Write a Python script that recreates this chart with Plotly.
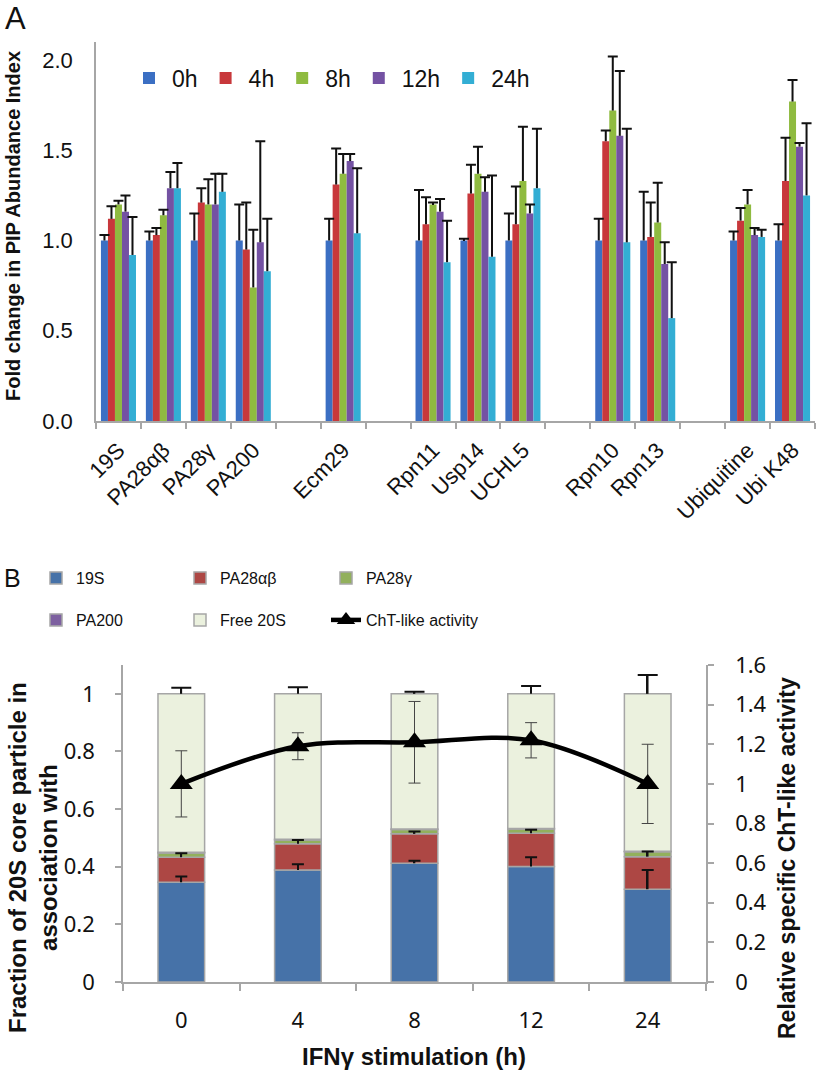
import numpy as np
import plotly.graph_objects as go

W, H = 816, 1072

# ---------------- Panel A data ----------------
proteins = ["19S", "PA28αβ", "PA28γ", "PA200", "Ecm29", "Rpn11", "Usp14", "UCHL5",
            "Rpn10", "Rpn13", "Ubiquitine", "Ubi K48"]
axis_categories = ["19S", "PA28αβ", "PA28γ", "PA200", " ", "Ecm29", "  ", "Rpn11", "Usp14",
                   "UCHL5", "   ", "Rpn10", "Rpn13", "    ", "Ubiquitine", "Ubi K48"]
time_labels = ["0h", "4h", "8h", "12h", "24h"]

fold_0h = [1.00, 1.00, 1.00, 1.00, 1.00, 1.00, 1.00, 1.00, 1.00, 1.00, 1.00, 1.00]
fold_4h = [1.12, 1.03, 1.21, 0.95, 1.31, 1.09, 1.26, 1.09, 1.55, 1.02, 1.11, 1.33]
fold_8h = [1.20, 1.14, 1.20, 0.74, 1.37, 1.20, 1.37, 1.33, 1.72, 1.10, 1.20, 1.77]
fold_12h = [1.16, 1.29, 1.20, 0.99, 1.44, 1.16, 1.27, 1.15, 1.58, 0.87, 1.03, 1.52]
fold_24h = [0.92, 1.29, 1.27, 0.83, 1.04, 0.88, 0.91, 1.29, 0.99, 0.57, 1.02, 1.25]

err_0h = [0.03, 0.05, 0.15, 0.20, 0.12, 0.28, 0.01, 0.15, 0.12, 0.27, 0.05, 0.09]
err_4h = [0.07, 0.04, 0.08, 0.26, 0.20, 0.15, 0.16, 0.21, 0.06, 0.19, 0.07, 0.24]
err_8h = [0.02, 0.03, 0.14, 0.32, 0.11, 0.01, 0.15, 0.30, 0.30, 0.22, 0.08, 0.12]
err_12h = [0.09, 0.09, 0.17, 0.56, 0.04, 0.07, 0.08, 0.05, 0.36, 0.12, 0.04, 0.02]
err_24h = [0.21, 0.14, 0.10, 0.29, 0.36, 0.23, 0.45, 0.33, 0.63, 0.31, 0.04, 0.40]

colors_a = ["#3B6FC3", "#C8383B", "#8FBB40", "#7452A3", "#33AED4"]

# ---------------- Panel B data ----------------
times = ["0", "4", "8", "12", "24"]
frac_19s = [0.346, 0.389, 0.412, 0.401, 0.322]
frac_pa28ab = [0.087, 0.091, 0.102, 0.115, 0.113]
frac_pa28g = [0.015, 0.013, 0.015, 0.015, 0.017]
frac_pa200 = [0.002, 0.002, 0.002, 0.002, 0.002]
frac_free = [0.550, 0.505, 0.469, 0.467, 0.546]

err_19s = [0.020, 0.020, 0.009, 0.032, 0.067]
err_pa28ab = [0.014, 0.013, 0.008, 0.012, 0.018]
err_free = [0.021, 0.023, 0.007, 0.027, 0.065]

cht_activity = [1.00, 1.19, 1.21, 1.22, 1.00]
cht_err = [0.167, 0.068, 0.206, 0.089, 0.200]

FONT_A = "Liberation Sans, Arial, sans-serif"
FONT_B = "Noto Sans, Open Sans, sans-serif"
AXIS_GREY = "#A6A6A6"
TXT = "#111111"

fig = go.Figure()

# Panel A bars
series_a = [fold_0h, fold_4h, fold_8h, fold_12h, fold_24h]
errors_a = [err_0h, err_4h, err_8h, err_12h, err_24h]
for lab, vals, col in zip(time_labels, series_a, colors_a):
    fig.add_trace(go.Bar(x=proteins, y=vals, name=lab, offsetgroup=lab,
                         marker=dict(color=col, line=dict(width=0)),
                         xaxis="x", yaxis="y", legend="legend"))
# Panel A error bars (plus direction only): thin stems with caps
for lab, vals, errs in zip(time_labels, series_a, errors_a):
    fig.add_trace(go.Bar(x=proteins, y=errs, base=vals, offsetgroup=lab, width=0.045,
                         marker=dict(color="#111111", line=dict(width=0)),
                         error_y=dict(type="constant", value=0, width=5, thickness=2,
                                      color="#111111"),
                         showlegend=False, hoverinfo="skip", xaxis="x", yaxis="y"))

# Panel B stacked bars (stacked via base inside one offset group)
segs = [("19S", frac_19s, "#4672A8", "legend2"),
        ("PA28αβ", frac_pa28ab, "#AD4744", "legend3"),
        ("PA28γ", frac_pa28g, "#92B05C", "legend4"),
        ("PA200", frac_pa200, "#7D60A0", "legend5"),
        ("Free 20S", frac_free, "#EBF1DE", "legend6")]
seg_vals = np.array([s[1] for s in segs])
tops = np.cumsum(seg_vals, axis=0)
bases = tops - seg_vals
for (name, vals, col, lg), b in zip(segs, bases):
    fig.add_trace(go.Bar(x=times, y=vals, base=b, name=name, offsetgroup="B", width=0.4,
                         marker=dict(color=col, line=dict(color=AXIS_GREY, width=1.5)),
                         xaxis="x2", yaxis="y2", legend=lg))

# Panel B error bars (plus only)
for idx, errs, cap in [(0, err_19s, 6), (1, err_pa28ab, 6), (4, err_free, 10)]:
    fig.add_trace(go.Bar(x=times, y=errs, base=tops[idx], offsetgroup="B", width=0.014,
                         marker=dict(color="#111111", line=dict(width=0)),
                         error_y=dict(type="constant", value=0, width=cap, thickness=2,
                                      color="#111111"),
                         showlegend=False, hoverinfo="skip", xaxis="x2", yaxis="y2"))

# ChT-like activity line (right axis)
fig.add_trace(go.Scatter(x=times, y=cht_activity, name="ChT-like activity",
                         mode="lines+markers",
                         line=dict(color="black", width=4.5, shape="spline"),
                         marker=dict(symbol="triangle-up", size=20, color="black"),
                         error_y=dict(type="data", array=cht_err, visible=True,
                                      color="#444444", thickness=1, width=6),
                         xaxis="x2", yaxis="y3", legend="legend7"))

ya_top, ya_bot = 42, 421
yb_top, yb_bot = 665, 982


def small_legend(xpix, ypix):
    return dict(orientation="h", x=xpix / W, xanchor="left", y=1 - ypix / H,
                yanchor="middle", font=dict(family=FONT_A, size=16, color=TXT),
                itemwidth=30, bgcolor="rgba(0,0,0,0)")


col_x = [36, 180, 326]
row_y = [578, 620]

fig.update_layout(
    template="none",
    width=W, height=H, autosize=False,
    margin=dict(l=0, r=0, t=0, b=0, autoexpand=False),
    paper_bgcolor="white", plot_bgcolor="rgba(0,0,0,0)",
    barmode="group", bargap=0.22, bargroupgap=0,
    font=dict(family=FONT_A, color=TXT),
    xaxis=dict(domain=[96 / W, 815 / W], anchor="y", type="category",
               categoryorder="array", categoryarray=axis_categories,
               range=[-0.5, len(axis_categories) - 0.5], automargin=False,
               tickson="boundaries", ticks="outside", ticklen=6, tickwidth=1.5,
               tickcolor=AXIS_GREY, showline=True, linecolor=AXIS_GREY, linewidth=1.5,
               tickangle=-45, tickfont=dict(family=FONT_A, size=22, color=TXT),
               ticklabelstandoff=6, showgrid=False, zeroline=False),
    yaxis=dict(domain=[1 - ya_bot / H, 1 - ya_top / H], anchor="x", automargin=False,
               range=[0, 2.1], tick0=0, dtick=0.5, tickformat=".1f",
               showline=True, linecolor=AXIS_GREY, linewidth=1.5, ticks="",
               tickfont=dict(family=FONT_A, size=22, color=TXT),
               ticklabelstandoff=17, showgrid=False, zeroline=False),
    xaxis2=dict(domain=[123 / W, 706 / W], anchor="y2", type="category", automargin=False,
                categoryorder="array", categoryarray=times,
                tickson="boundaries", ticks="outside", ticklen=7, tickwidth=1.5,
                tickcolor=AXIS_GREY, showline=True, linecolor=AXIS_GREY, linewidth=1.5,
                tickfont=dict(family=FONT_B, size=22, color=TXT),
                ticklabelstandoff=18, showgrid=False, zeroline=False),
    yaxis2=dict(domain=[1 - yb_bot / H, 1 - yb_top / H], anchor="x2", automargin=False,
                range=[0, 1.1], tick0=0, dtick=0.2,
                ticks="outside", ticklen=6, tickwidth=1.5, tickcolor=AXIS_GREY,
                showline=True, linecolor=AXIS_GREY, linewidth=1.5,
                tickfont=dict(family=FONT_B, size=22, color=TXT),
                ticklabelstandoff=16, showgrid=False, zeroline=False),
    yaxis3=dict(overlaying="y2", side="right", anchor="x2", automargin=False,
                range=[0, 1.6], tick0=0, dtick=0.2,
                ticks="outside", ticklen=6, tickwidth=1.5, tickcolor=AXIS_GREY,
                showline=True, linecolor=AXIS_GREY, linewidth=1.5,
                tickfont=dict(family=FONT_B, size=22, color=TXT),
                ticklabelstandoff=17, showgrid=False, zeroline=False),
    legend=dict(orientation="h", x=126 / W, xanchor="left", y=1 - 78 / H, yanchor="middle",
                font=dict(family=FONT_A, size=23, color=TXT), itemwidth=36,
                bgcolor="rgba(0,0,0,0)", traceorder="normal"),
    legend2=small_legend(col_x[0], row_y[0]),
    legend3=small_legend(col_x[1], row_y[0]),
    legend4=small_legend(col_x[2], row_y[0]),
    legend5=small_legend(col_x[0], row_y[1]),
    legend6=small_legend(col_x[1], row_y[1]),
    legend7=small_legend(col_x[2], row_y[1]),
    showlegend=True,
)

annotations = [
    dict(text="A", x=3 / W, y=1.0, xanchor="left", yanchor="top", yshift=1,
         font=dict(family=FONT_A, size=31, color=TXT)),
    dict(text="B", x=2 / W, y=1 - 578 / H, xanchor="left", yanchor="middle",
         font=dict(family=FONT_A, size=25, color=TXT)),
    dict(text="<b>Fold change in PIP Abundance Index</b>", x=13 / W, y=1 - 226 / H,
         textangle=-90, xanchor="center", yanchor="middle",
         font=dict(family=FONT_A, size=20, color=TXT)),
    dict(text="<b>Fraction of 20S core particle in<br>association with</b>", x=33 / W,
         y=1 - 858 / H, textangle=-90, xanchor="center", yanchor="middle",
         font=dict(family=FONT_A, size=24, color=TXT)),
    dict(text="<b>Relative specific ChT-like activity</b>", x=787 / W, y=1 - 858 / H,
         textangle=-90, xanchor="center", yanchor="middle",
         font=dict(family=FONT_A, size=23, color=TXT)),
    dict(text="<b>IFNγ stimulation (h)</b>", x=414 / W, y=1 - 1056 / H,
         xanchor="center", yanchor="middle",
         font=dict(family=FONT_A, size=24, color=TXT)),
]
for a in annotations:
    a.update(xref="paper", yref="paper", showarrow=False)
fig.update_layout(annotations=annotations)

fig.write_html("out.html", config={"displayModeBar": False},
               post_script="document.body.style.margin='0';document.body.style.overflow='hidden';")
